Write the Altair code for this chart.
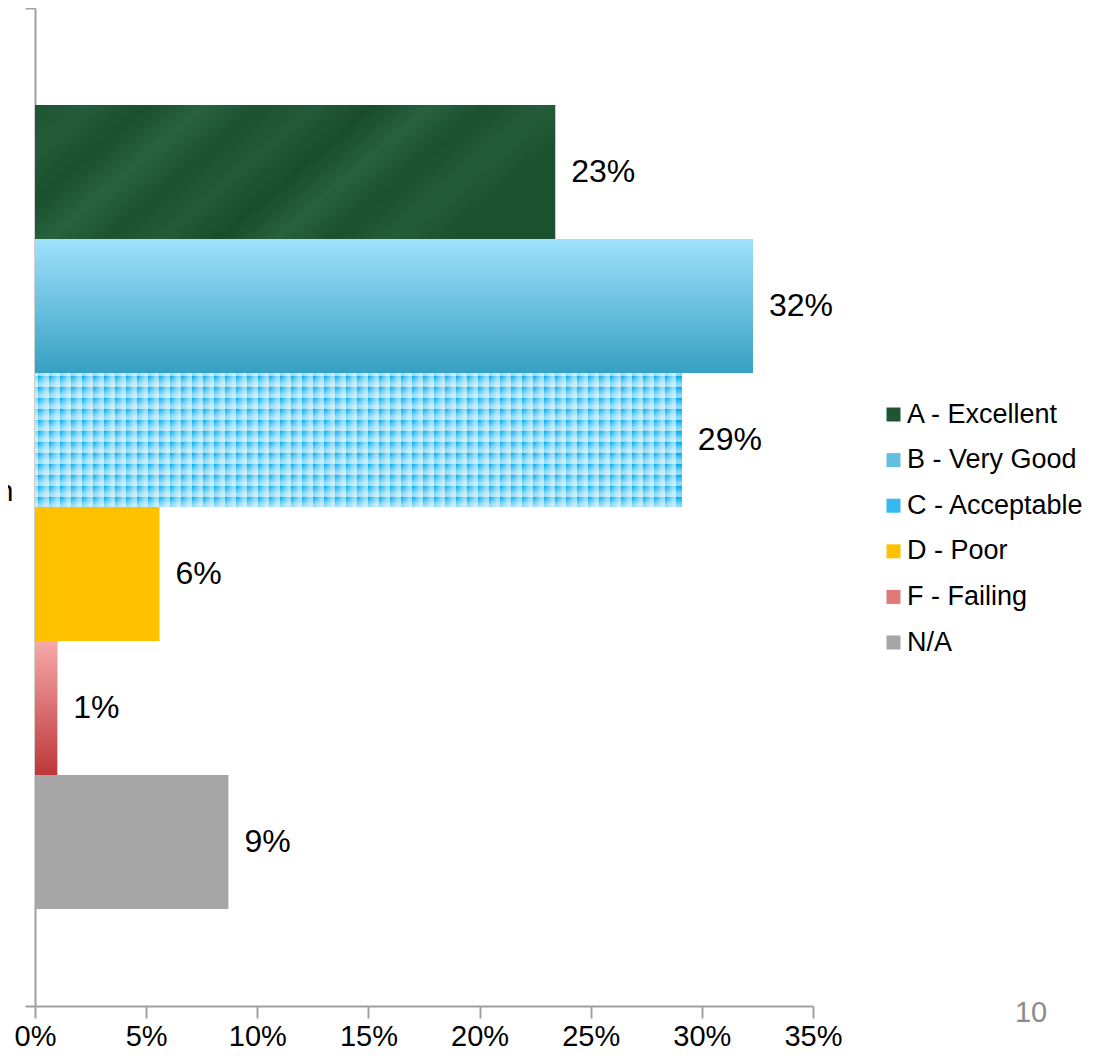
import altair as alt
import pandas as pd

# ---- data ----
categories = ["A - Excellent", "B - Very Good", "C - Acceptable", "D - Poor", "F - Failing", "N/A"]
values = [0.234, 0.323, 0.291, 0.056, 0.010, 0.087]
x_ticks = [0, 0.05, 0.10, 0.15, 0.20, 0.25, 0.30, 0.35]
group_label = "Overall Rating Distribution"
page_number = "10"

# ---- styles ----
legend_colors = ["#1f5632", "#62bfe0", "#35b9f1", "#ffc000", "#e07a7a", "#a6a6a6"]
FONT = "Liberation Sans"
AXIS_GRAY = "#a0a0a0"

df = pd.DataFrame({"grp": [group_label] * len(categories),
                   "category": categories, "value": values})

W, H = 778, 998
PAD_OUT = 0.724

x_enc = alt.X("value:Q",
              scale=alt.Scale(domain=[0, 0.35], nice=False, zero=True),
              axis=alt.Axis(values=x_ticks, format=".0%", title=None, grid=False,
                            tickSize=12, tickWidth=2, tickColor=AXIS_GRAY,
                            domainColor=AXIS_GRAY, domainWidth=2,
                            labelFont=FONT, labelFontSize=29, labelColor="#000000",
                            labelPadding=4.5, labelFlush=False))
y_enc = alt.Y("grp:N",
              scale=alt.Scale(paddingInner=0, paddingOuter=0),
              axis=alt.Axis(title=None, tickBand="extent", tickSize=10, tickWidth=2,
                            tickColor=AXIS_GRAY, domainColor=AXIS_GRAY, domainWidth=2,
                            labelFont=FONT, labelFontSize=29, labelColor="#000000",
                            labelPadding=12, labelOffset=-16, labelLimit=2000,
                            labelAngle=0))
yoff_enc = alt.YOffset("category:N", sort=categories,
                       scale=alt.Scale(domain=categories, paddingInner=0, paddingOuter=PAD_OUT))

base = alt.Chart(df)

bars = base.mark_bar(cornerRadius=0).encode(
    x=x_enc, y=y_enc, yOffset=yoff_enc,
    color=alt.Color("category:N",
                    scale=alt.Scale(domain=categories, range=legend_colors),
                    legend=alt.Legend(title=None, orient="none", legendX=845, legendY=393,
                                      symbolType="square", symbolSize=196,
                                      symbolStrokeWidth=0, labelFont=FONT,
                                      labelFontSize=27, labelColor="#000000",
                                      rowPadding=17.6, labelOffset=0, padding=0,
                                      labelLimit=400)),
)


def grad_bar(cat, gradient):
    return base.transform_filter(alt.datum.category == cat).mark_bar(
        color=gradient).encode(x=x_enc, y=y_enc, yOffset=yoff_enc)


def vgrad(top, bottom):
    return alt.Gradient(gradient="linear", x1=0, y1=0, x2=0, y2=1,
                        stops=[alt.GradientStop(offset=0, color=top),
                               alt.GradientStop(offset=1, color=bottom)])


# A: mottled dark green
green_stops = ["#1e5431", "#245b38", "#1b4f2d", "#28623f", "#1d5230", "#235a37",
               "#1a4c2b", "#27613d", "#1c502e", "#245c39", "#1d5230"]
grad_a = alt.Gradient(gradient="linear", x1=0, y1=0, x2=1, y2=0.3,
                      stops=[alt.GradientStop(offset=i / (len(green_stops) - 1), color=c)
                             for i, c in enumerate(green_stops)])
layer_a = grad_bar("A - Excellent", grad_a)
layer_b = grad_bar("B - Very Good", vgrad("#9fe1fc", "#37a0c2"))
layer_f = grad_bar("F - Failing", vgrad("#f7a9a9", "#bd3739"))

# C: blue texture made of white grid stripes over blue
c_width_px = values[2] / 0.35 * W
step_px = H / (len(categories) + 2 * PAD_OUT)
period = 11.0
line_w = 3.4
WHITE = "rgba(255,255,255,0.55)"
CLEAR = "rgba(255,255,255,0)"


def stripes(length_px, horizontal):
    stops = []
    n = int(length_px // period) + 1
    for k in range(n):
        a = k * period / length_px
        if a > 1:
            break
        b = min((k * period + line_w) / length_px, 1)
        c = min((k * period + line_w + 0.01) / length_px, 1)
        stops.append(alt.GradientStop(offset=a, color=WHITE))
        stops.append(alt.GradientStop(offset=b, color=WHITE))
        stops.append(alt.GradientStop(offset=c, color=CLEAR))
    stops.append(alt.GradientStop(offset=1, color=CLEAR))
    if horizontal:
        return alt.Gradient(gradient="linear", x1=0, y1=0, x2=0, y2=1, stops=stops)
    return alt.Gradient(gradient="linear", x1=0, y1=0, x2=1, y2=0, stops=stops)


layer_c0 = grad_bar("C - Acceptable", "#02aeef")
layer_c1 = grad_bar("C - Acceptable", stripes(c_width_px, False))
layer_c2 = grad_bar("C - Acceptable", stripes(step_px, True))

labels = base.mark_text(align="left", baseline="middle", dx=16, font=FONT,
                        fontSize=32, color="#000000").encode(
    x=x_enc, y=y_enc, yOffset=yoff_enc, text=alt.Text("value:Q", format=".0%"))

page = alt.Chart(pd.DataFrame({"t": [page_number]})).mark_text(
    align="center", baseline="middle", font=FONT, fontSize=29, color="#8c8c8c").encode(
    x=alt.value(996), y=alt.value(1005), text="t:N")

chart = alt.layer(bars, layer_a, layer_b, layer_f, layer_c0, layer_c1, layer_c2,
                  labels, page).properties(
    width=W, height=H,
    background="#ffffff",
    autosize=alt.AutoSizeParams(type="none"),
    padding={"left": 27, "top": 0, "right": 275, "bottom": 46},
).configure_view(strokeWidth=0, stroke="transparent")

chart.save("out.html", embed_options={"renderer": "svg", "actions": False})
